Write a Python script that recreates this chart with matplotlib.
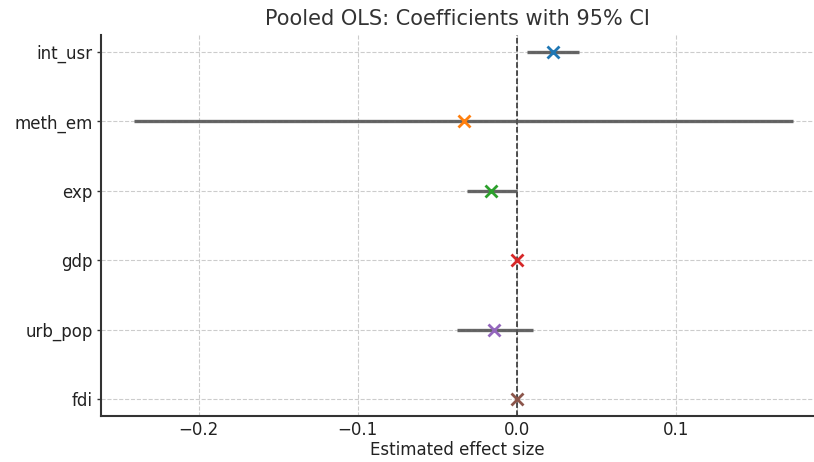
import matplotlib
matplotlib.use("Agg")
import matplotlib.pyplot as plt
import numpy as np

# coefficient estimates and 95% CI bounds
variables = ["int_usr", "meth_em", "exp", "gdp", "urb_pop", "fdi"]
coef = [0.0226, -0.0332, -0.0163, 0.0000, -0.0144, 0.0000]
ci_low = [0.0063, -0.2408, -0.0313, -0.0005, -0.0376, -0.0003]
ci_high = [0.0389, 0.1737, 0.0000, 0.0005, 0.0100, 0.0003]
colors = ["#1f77b4", "#ff7f0e", "#2ca02c", "#d62728", "#9467bd", "#8c564b"]

fig = plt.figure(figsize=(8.14, 4.62), dpi=100)
ax = fig.add_axes([0.124, 0.1, 0.876, 0.824])

y = np.arange(len(variables))
coef_a = np.array(coef)
xerr = [coef_a - np.array(ci_low), np.array(ci_high) - coef_a]

ax.errorbar(coef, y, xerr=xerr, fmt="none", ecolor="#555555", elinewidth=2.4,
            alpha=0.9, capsize=0, zorder=2)
for yi, c, col in zip(y, coef, colors):
    ax.plot(c, yi, marker="x", color=col, markersize=8, mew=2, linestyle="none", zorder=3)

ax.axvline(0, color="#222222", linestyle="--", linewidth=1.1, zorder=1)

ax.set_yticks(y)
ax.set_yticklabels(variables, fontsize=12, color="#222222")
ax.set_ylim(len(variables) - 1 + 0.24, -0.24)
ax.set_xlim(-0.2615, 0.1868)
ax.set_xticks([-0.2, -0.1, 0.0, 0.1])
ax.tick_params(axis="x", labelsize=12, labelcolor="#222222", length=0, pad=4)
ax.tick_params(axis="y", length=3, width=1, color="#333333", pad=3)
ax.set_xlabel("Estimated effect size", fontsize=12, color="#222222", labelpad=1)
ax.set_title("Pooled OLS: Coefficients with 95% CI", fontsize=15, color="#333333", pad=7)

ax.grid(True, linestyle="--", color="#cccccc", linewidth=0.8)
ax.set_axisbelow(True)
for s in ["top", "right"]:
    ax.spines[s].set_visible(False)
for s in ["left", "bottom"]:
    ax.spines[s].set_color("#333333")
    ax.spines[s].set_linewidth(1.5)

fig.savefig("out.png", dpi=100)
